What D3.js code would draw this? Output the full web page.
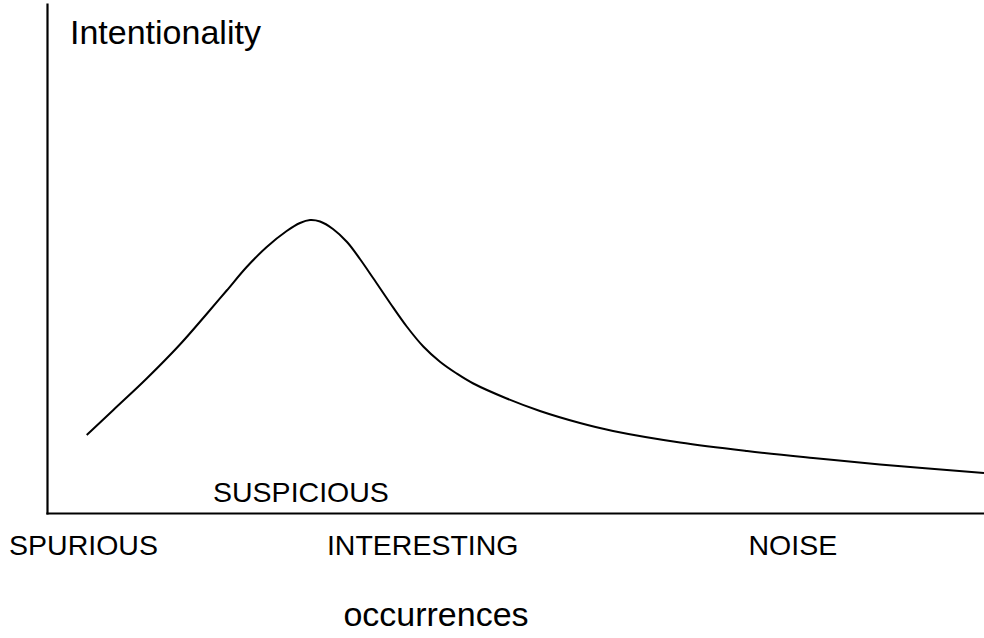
<!DOCTYPE html>
<html>
<head>
<meta charset="utf-8">
<script src="https://cdn.jsdelivr.net/npm/d3@7"></script>
<style>
  html, body { margin: 0; padding: 0; background: #fff; }
  svg { display: block; }
  text { font-family: "Liberation Sans", Arial, Helvetica, sans-serif; fill: #000; }
</style>
</head>
<body>
<div id="chart"></div>
<script>
// Curve, in arbitrary units (0-100 on both axes).
var occurrences = [4.24, 7.08, 10.64, 14.19, 17.04, 19.18, 21.31, 23.45, 25.58, 27.00, 28.07,
  29.14, 30.52, 32.02, 33.40, 34.82, 36.61, 38.39, 40.16, 41.94, 43.72, 45.50, 49.06, 52.61,
  56.88, 60.41, 67.56, 74.71, 81.75, 88.90, 100];
var intentionality = [15.32, 20.24, 26.42, 33.10, 39.10, 43.71, 48.33, 52.26, 55.40, 56.97, 57.56,
  57.27, 55.80, 53.24, 49.90, 46.11, 41.26, 36.64, 32.71, 29.72, 27.41, 25.44, 22.50, 20.04,
  17.68, 16.11, 13.85, 12.18, 10.81, 9.53, 7.86];

// Region names under the axis and where they sit along it.
var regionNames = ['SPURIOUS', 'INTERESTING', 'NOISE'];
var regionAt = [3.9, 40.1, 79.6];
// This one sits just above the axis line.
var peakName = 'SUSPICIOUS';
var peakAt = 27.1;

var xTitle = 'occurrences';
var yTitle = 'Intentionality';

var width = 984;
var height = 638;

var svg = d3.select('#chart')
  .append('svg')
  .attr('width', width)
  .attr('height', height);

var x = d3.scaleLinear().domain([0, 100]).range([47, 984]);
var y = d3.scaleLinear().domain([0, 100]).range([513, 4]);

// Plain axis lines only, no ticks.
svg.append('g')
  .attr('transform', 'translate(0,' + y(0) + ')')
  .call(d3.axisBottom(x).ticks(0).tickSizeOuter(0))
  .call(styleDomain);

svg.append('g')
  .attr('transform', 'translate(' + x(0) + ',0)')
  .call(d3.axisLeft(y).ticks(0).tickSizeOuter(0))
  .call(styleDomain);

function styleDomain(g) {
  g.select('.domain')
    .attr('stroke', '#000')
    .attr('stroke-width', 2.2)
    .attr('stroke-linecap', 'square');
}

var points = d3.zip(occurrences, intentionality);

// Catmull-Rom keeps the hand-read points from putting kinks in the curve.
var line = d3.line()
  .x(function(d) { return x(d[0]); })
  .y(function(d) { return y(d[1]); })
  .curve(d3.curveCatmullRom.alpha(0.5));

svg.append('path')
  .datum(points)
  .attr('fill', 'none')
  .attr('stroke', '#000')
  .attr('stroke-width', 2)
  .attr('d', line);

svg.selectAll('.region-label')
  .data(regionNames)
  .enter()
  .append('text')
  .classed('region-label', true)
  .attr('x', function(d, i) { return x(regionAt[i]); })
  .attr('y', 555)
  .attr('text-anchor', 'middle')
  .style('font-size', '28.5px')
  .text(function(d) { return d; });

svg.append('text')
  .attr('x', x(peakAt))
  .attr('y', 502)
  .attr('text-anchor', 'middle')
  .style('font-size', '28.5px')
  .text(peakName);

svg.append('text')
  .attr('x', 70)
  .attr('y', 44)
  .style('font-size', '34px')
  .text(yTitle);

svg.append('text')
  .attr('x', 436)
  .attr('y', 626)
  .attr('text-anchor', 'middle')
  .style('font-size', '34px')
  .text(xTitle);
</script>
</body>
</html>
